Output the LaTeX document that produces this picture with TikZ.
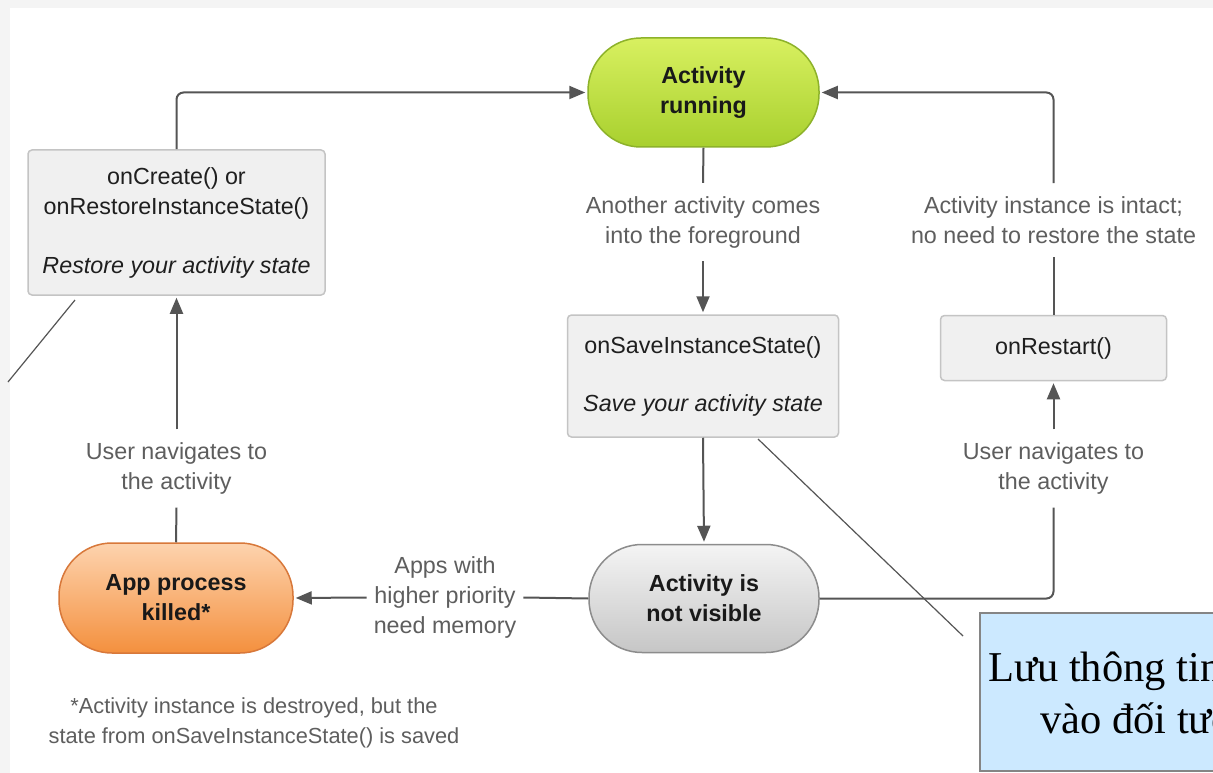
\documentclass[tikz,border=0pt]{standalone}
\usepackage{fontspec}
\setmainfont{Liberation Sans}
\newfontfamily\serifvn{Liberation Serif}
\usetikzlibrary{arrows.meta}
\definecolor{framegray}{HTML}{F4F4F4}
\definecolor{linegray}{HTML}{555555}
\definecolor{labelgray}{HTML}{5E5E5E}
\definecolor{boxfill}{HTML}{F0F0F0}
\definecolor{boxborder}{HTML}{C4C4C4}
\definecolor{greentop}{HTML}{D8F060}
\definecolor{greenbot}{HTML}{A8D02E}
\definecolor{greenborder}{HTML}{8DB22A}
\definecolor{graytop}{HTML}{F4F4F4}
\definecolor{graybot}{HTML}{C6C6C6}
\definecolor{grayborder}{HTML}{8C8C8C}
\definecolor{orangetop}{HTML}{FDD3AE}
\definecolor{orangebot}{HTML}{F4903E}
\definecolor{orangeborder}{HTML}{D8783A}
\definecolor{notefill}{HTML}{CCE9FF}
\definecolor{noteborder}{HTML}{858585}
\tikzset{
  conn/.style={draw=linegray, line width=2pt, rounded corners=7pt},
  arr/.style={conn, -{Triangle[length=16pt,width=13pt]}, shorten >=2pt},
  lbl/.style={text=labelgray, font=\fontsize{23.3}{30}\selectfont, align=center, inner xsep=7pt, inner ysep=13pt},
  fnote/.style={text=labelgray, font=\fontsize{21.8}{29.5}\selectfont, align=center, inner sep=0pt},
  box/.style={draw=boxborder, fill=boxfill, line width=1.5pt, rounded corners=4pt,
    font=\fontsize{23.3}{30}\selectfont, text=black!88, align=center, inner sep=0pt},
  pill/.style={rounded corners=53pt, minimum width=230pt, minimum height=108pt, line width=1.5pt,
    font=\fontsize{23.3}{30}\selectfont\bfseries, text=black!90, align=center, inner sep=0pt},
  greenpill/.style={pill, draw=greenborder, top color=greentop, bottom color=greenbot},
  graypill/.style={pill, draw=grayborder, top color=graytop, bottom color=graybot},
  orangepill/.style={pill, draw=orangeborder, top color=orangetop, bottom color=orangebot},
  callline/.style={draw=linegray, line width=1.2pt},
  notebox/.style={draw=noteborder, fill=notefill, line width=1.5pt, minimum width=400pt, minimum height=158pt, inner sep=0pt},
  notetext/.style={font=\serifvn\fontsize{42.5}{52}\selectfont, text=black, inner sep=0pt},
}
\begin{document}
\begin{tikzpicture}[x=1pt,y=-1pt]
\useasboundingbox (0,0) rectangle (1213,773);
\clip (0,0) rectangle (1213,773);
\fill[framegray] (0,0) rectangle (1213,773);
\fill[white] (10,8) rectangle (1213,773);

% state pills
\node[greenpill, minimum width=231pt, minimum height=109pt] (run) at (703.5,92.5) {Activity\\running};
\node[graypill] (nv) at (704,598.5) {Activity is\\not visible};
\node[orangepill, minimum width=234pt, minimum height=110pt] (kill) at (176,598) {App process\\killed*};

% callback boxes
\node[box, minimum width=297pt, minimum height=145pt] (create) at (176.5,222.5)
  {onCreate() or\\onRestoreInstanceState()\\[29pt]\textit{Restore your activity state}};
\node[box, minimum width=271pt, minimum height=122pt] (save) at (703,376)
  {onSaveInstanceState()\\[28pt]\textit{Save your activity state}};
\node[box, minimum width=226pt, minimum height=65pt] (restart) at (1053.5,348) {onRestart()};

% labels
\node[lbl] (l1) at (703,222) {Another activity comes\\into the foreground};
\node[lbl] (l2) at (1053.5,220) {Activity instance is intact;\\no need to restore the state};
\node[lbl] (l3) at (1053.5,468.5) {User navigates to\\the activity};
\node[lbl] (l4) at (176.5,468.5) {User navigates to\\the activity};
\node[lbl] (l5) at (445,597.5) {Apps with\\higher priority\\need memory};
\node[fnote] (fn) at (254,723) {*Activity instance is destroyed, but the\\state from onSaveInstanceState() is saved};

% connectors
\draw[arr] (create.north) |- (run.west);
\draw[conn] (run.south) -- (l1.north);
\draw[arr] (l1.south) -- (save.north);
\draw[arr] (save.south) -- (nv.north);
\draw[conn] (nv.west) -- (l5.east);
\draw[arr] (l5.west) -- (kill.east);
\draw[conn] (kill.north) -- (l4.south);
\draw[arr] (l4.north) -- (create.south);
\draw[conn] (nv.east) -| (l3.south);
\draw[arr] (l3.north) -- (restart.south);
\draw[conn] (restart.north) -- (l2.south);
\draw[arr] (l2.north) |- (run.east);

% callout lines and note
\coordinate (ca1) at (75,300);
\coordinate (ca2) at (8,382);
\draw[callline] (ca1) -- (ca2);
\coordinate (cb1) at (758,439);
\coordinate (cb2) at (963,636);
\draw[callline] (cb1) -- (cb2);
\node[notebox, anchor=north west] (note) at (979,612) {};
\node[notetext, anchor=base west] (nt1) at (988,681) {Lưu thông tin};
\node[notetext, anchor=base west] (nt2) at (1040,733) {vào đối tượng};
\end{tikzpicture}
\end{document}
